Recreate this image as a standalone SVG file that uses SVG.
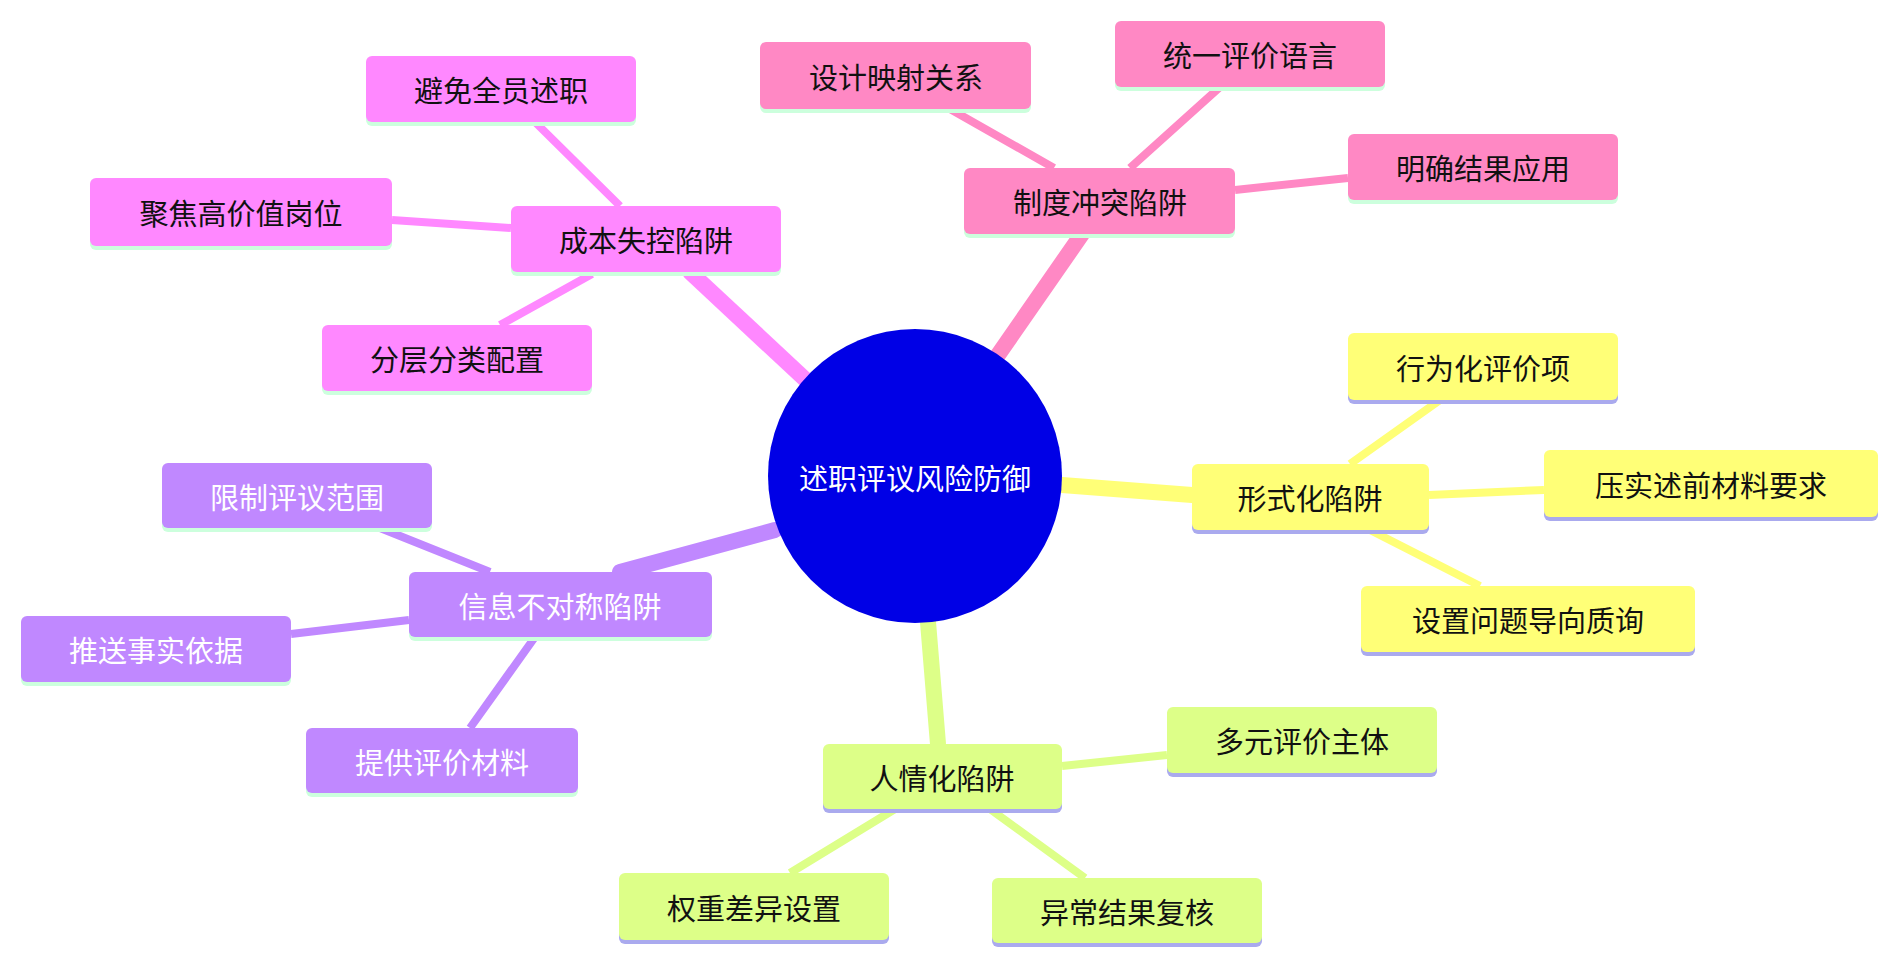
<svg xmlns="http://www.w3.org/2000/svg" width="1899" height="964" viewBox="0 0 1899 964">
<style>
text{font-family:"Noto Sans CJK SC","Noto Sans",sans-serif;font-size:29px;text-anchor:middle;dominant-baseline:central;fill:#111}
.w{fill:#fff}
.main{stroke-width:16;stroke-linecap:round;fill:none}
.sub{stroke-width:8;fill:none}
.pk{fill:#ff88ff}.rs{fill:#ff88c4}.ye{fill:#ffff77}.gr{fill:#ddff88}.pu{fill:#c088ff}
.lg{fill:#ccffdd}.lp{fill:#aaaaee}
</style>
<g id="connectors">
<path class="main" stroke="#ff88ff" d="M808 382 L690 272"/>
<path class="main" stroke="#ff88c4" d="M998 355 L1082 234"/>
<path class="main" stroke="#ffff77" d="M1062 485 L1192 495"/>
<path class="main" stroke="#ddff88" d="M928 622 L938 744"/>
<path class="main" stroke="#c088ff" d="M775 530 L620 572"/>
<path class="sub" stroke="#ff88ff" d="M620 206 L535 122 M511 228 L392 220 M592 274 L500 325"/>
<path class="sub" stroke="#ff88c4" d="M1054 168 L950 109 M1130 168 L1220 87 M1235 190 L1348 178"/>
<path class="sub" stroke="#ffff77" d="M1350 464 L1440 400 M1429 495 L1544 490 M1370 530 L1480 586"/>
<path class="sub" stroke="#ddff88" d="M1062 766 L1167 755 M895 809 L790 873 M990 809 L1085 878"/>
<path class="sub" stroke="#c088ff" d="M490 572 L380 528 M409 620 L291 634 M535 637 L470 728"/>
</g>
<g id="center"><circle cx="915" cy="476" r="147" fill="#0000e6"/><text class="w" x="915" y="477">述职评议风险防御</text></g>
<g id="n1"><rect class="lg" x="511" y="208" width="270" height="68" rx="6"/><rect class="pk" x="511" y="206" width="270" height="66" rx="6"/><text x="646" y="239">成本失控陷阱</text></g>
<g id="n1a"><rect class="lg" x="366" y="58" width="270" height="68" rx="6"/><rect class="pk" x="366" y="56" width="270" height="66" rx="6"/><text x="501" y="89">避免全员述职</text></g>
<g id="n1b"><rect class="lg" x="90" y="180" width="302" height="70" rx="6"/><rect class="pk" x="90" y="178" width="302" height="68" rx="6"/><text x="241" y="212">聚焦高价值岗位</text></g>
<g id="n1c"><rect class="lg" x="322" y="327" width="270" height="68" rx="6"/><rect class="pk" x="322" y="325" width="270" height="66" rx="6"/><text x="457" y="358">分层分类配置</text></g>
<g id="n2"><rect class="lg" x="964" y="170" width="271" height="68" rx="6"/><rect class="rs" x="964" y="168" width="271" height="66" rx="6"/><text x="1100" y="201">制度冲突陷阱</text></g>
<g id="n2a"><rect class="lg" x="760" y="44" width="271" height="69" rx="6"/><rect class="rs" x="760" y="42" width="271" height="67" rx="6"/><text x="896" y="76">设计映射关系</text></g>
<g id="n2b"><rect class="lg" x="1115" y="23" width="270" height="68" rx="6"/><rect class="rs" x="1115" y="21" width="270" height="66" rx="6"/><text x="1250" y="54">统一评价语言</text></g>
<g id="n2c"><rect class="lg" x="1348" y="136" width="270" height="68" rx="6"/><rect class="rs" x="1348" y="134" width="270" height="66" rx="6"/><text x="1483" y="167">明确结果应用</text></g>
<g id="n3"><rect class="lp" x="1192" y="466" width="237" height="68" rx="6"/><rect class="ye" x="1192" y="464" width="237" height="66" rx="6"/><text x="1310" y="497">形式化陷阱</text></g>
<g id="n3a"><rect class="lp" x="1348" y="335" width="270" height="69" rx="6"/><rect class="ye" x="1348" y="333" width="270" height="67" rx="6"/><text x="1483" y="367">行为化评价项</text></g>
<g id="n3b"><rect class="lp" x="1544" y="452" width="334" height="69" rx="6"/><rect class="ye" x="1544" y="450" width="334" height="67" rx="6"/><text x="1711" y="484">压实述前材料要求</text></g>
<g id="n3c"><rect class="lp" x="1361" y="588" width="334" height="68" rx="6"/><rect class="ye" x="1361" y="586" width="334" height="66" rx="6"/><text x="1528" y="619">设置问题导向质询</text></g>
<g id="n4"><rect class="lp" x="823" y="746" width="239" height="67" rx="6"/><rect class="gr" x="823" y="744" width="239" height="65" rx="6"/><text x="942" y="777">人情化陷阱</text></g>
<g id="n4a"><rect class="lp" x="1167" y="709" width="270" height="68" rx="6"/><rect class="gr" x="1167" y="707" width="270" height="66" rx="6"/><text x="1302" y="740">多元评价主体</text></g>
<g id="n4b"><rect class="lp" x="619" y="875" width="270" height="69" rx="6"/><rect class="gr" x="619" y="873" width="270" height="67" rx="6"/><text x="754" y="907">权重差异设置</text></g>
<g id="n4c"><rect class="lp" x="992" y="880" width="270" height="67" rx="6"/><rect class="gr" x="992" y="878" width="270" height="65" rx="6"/><text x="1127" y="911">异常结果复核</text></g>
<g id="n5"><rect class="lg" x="409" y="574" width="303" height="67" rx="6"/><rect class="pu" x="409" y="572" width="303" height="65" rx="6"/><text class="w" x="560" y="605">信息不对称陷阱</text></g>
<g id="n5a"><rect class="lg" x="162" y="465" width="270" height="67" rx="6"/><rect class="pu" x="162" y="463" width="270" height="65" rx="6"/><text class="w" x="297" y="496">限制评议范围</text></g>
<g id="n5b"><rect class="lg" x="21" y="618" width="270" height="68" rx="6"/><rect class="pu" x="21" y="616" width="270" height="66" rx="6"/><text class="w" x="156" y="649">推送事实依据</text></g>
<g id="n5c"><rect class="lg" x="306" y="730" width="272" height="67" rx="6"/><rect class="pu" x="306" y="728" width="272" height="65" rx="6"/><text class="w" x="442" y="761">提供评价材料</text></g>
</svg>
